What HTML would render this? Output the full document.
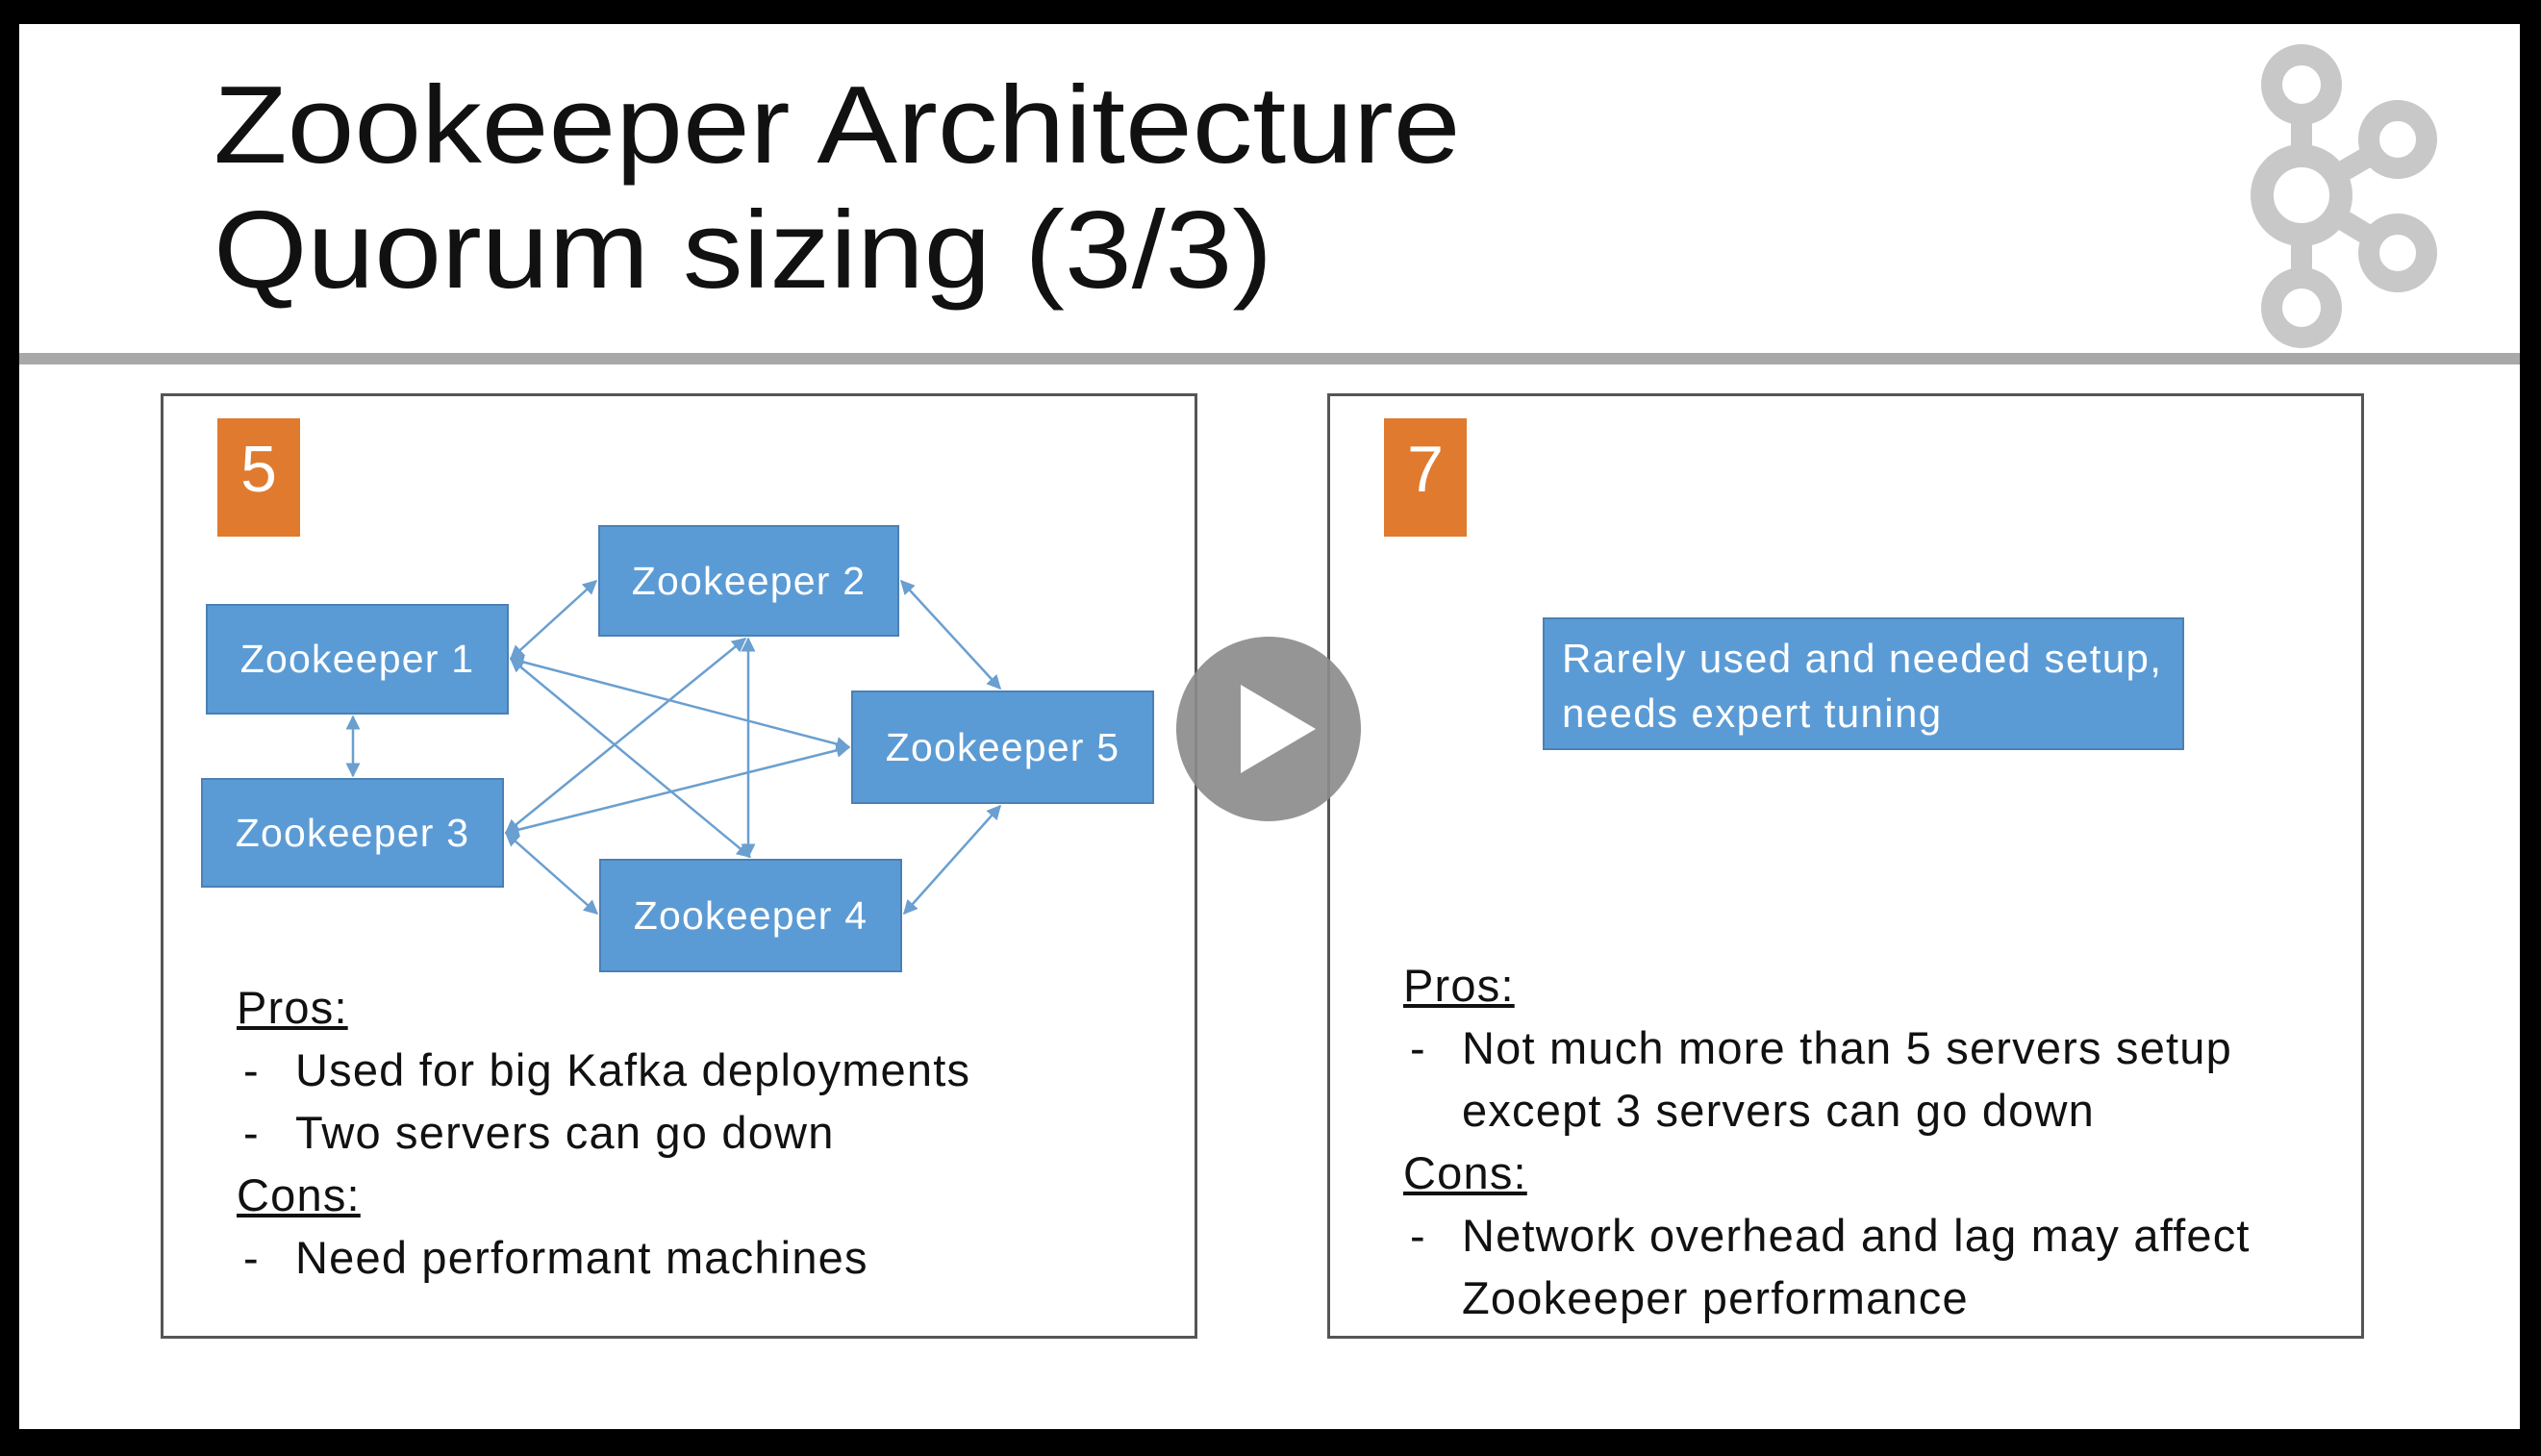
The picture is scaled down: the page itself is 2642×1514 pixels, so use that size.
<!DOCTYPE html>
<html><head><meta charset="utf-8"><style>
body{margin:0;background:#000;width:2642px;height:1514px;overflow:hidden;position:relative;font-family:"Liberation Sans",sans-serif}
.slide{position:absolute;left:20px;top:25px;width:2600px;height:1461px;background:#fff}
.t{position:absolute;white-space:nowrap}
.box{position:absolute;border:3px solid #555;box-sizing:border-box}
.or{position:absolute;background:#e07a2f;color:#fff;font-size:68px;text-align:center;box-sizing:border-box;padding-top:14px}
.n{position:absolute;background:#5b9bd5;border:2px solid #4a80b5;box-sizing:border-box;color:#fff;font-size:41px;letter-spacing:1.2px;display:flex;align-items:center;justify-content:center;white-space:nowrap}
.tx{font-size:47px;color:#111;letter-spacing:1.2px}
</style></head><body>
<div class="slide"></div>
<div class="t" style="left:222px;top:66px;font-size:114px;line-height:130px;color:#111;transform:scaleX(1.1);transform-origin:0 0">Zookeeper Architecture<br>Quorum sizing (3/3)</div>
<svg style="position:absolute;left:0;top:0" width="2642" height="1514">
<rect x="20" y="367" width="2600" height="12" fill="#a8a8a8"/>
<g fill="none" stroke="#c8c8c8">
<line x1="2393" y1="88" x2="2393" y2="320" stroke-width="22"/>
<line x1="2393" y1="203" x2="2493" y2="145" stroke-width="22"/>
<line x1="2393" y1="203" x2="2493" y2="263" stroke-width="22"/>
<circle cx="2393" cy="88" r="31" stroke-width="22" fill="#fff"/>
<circle cx="2393" cy="320" r="31" stroke-width="22" fill="#fff"/>
<circle cx="2493" cy="145" r="30" stroke-width="22" fill="#fff"/>
<circle cx="2493" cy="263" r="30" stroke-width="22" fill="#fff"/>
<circle cx="2393" cy="203" r="41" stroke-width="24" fill="#fff"/>
</g>
</svg>
<div class="box" style="left:167px;top:409px;width:1078px;height:983px"></div>
<div class="box" style="left:1380px;top:409px;width:1078px;height:983px"></div>
<div class="or" style="left:226px;top:435px;width:86px;height:123px">5</div>
<div class="or" style="left:1439px;top:435px;width:86px;height:123px">7</div>
<svg style="position:absolute;left:0;top:0" width="2642" height="1514">
<defs><marker id="a" viewBox="0 0 10 10" refX="9" refY="5" markerWidth="6" markerHeight="6" orient="auto-start-reverse"><path d="M0,0L10,5L0,10z" fill="#6a9fd0"/></marker></defs>
<g stroke="#6a9fd0" stroke-width="2.5" marker-start="url(#a)" marker-end="url(#a)">
<line x1="531" y1="685" x2="620" y2="604"/>
<line x1="367" y1="745" x2="367" y2="807"/>
<line x1="531" y1="685" x2="883" y2="777"/>
<line x1="531" y1="685" x2="780" y2="891"/>
<line x1="526" y1="866" x2="775" y2="664"/>
<line x1="526" y1="866" x2="883" y2="777"/>
<line x1="526" y1="866" x2="621" y2="950"/>
<line x1="778" y1="664" x2="778" y2="891"/>
<line x1="937" y1="604" x2="1040" y2="716"/>
<line x1="940" y1="950" x2="1040" y2="838"/>
</g></svg>
<div class="n" style="left:214px;top:628px;width:315px;height:115px">Zookeeper 1</div>
<div class="n" style="left:622px;top:546px;width:313px;height:116px">Zookeeper 2</div>
<div class="n" style="left:209px;top:809px;width:315px;height:114px">Zookeeper 3</div>
<div class="n" style="left:623px;top:893px;width:315px;height:118px">Zookeeper 4</div>
<div class="n" style="left:885px;top:718px;width:315px;height:118px">Zookeeper 5</div>
<div class="n" style="left:1604px;top:642px;width:667px;height:138px;display:block;padding:12px 18px;font-size:42px;letter-spacing:1.4px;line-height:57px">Rarely used and needed setup,<br>needs expert tuning</div>
<div class="t tx" style="left:246px;top:1015px;line-height:65px">
<u>Pros:</u><br>
<span style="display:inline-block;width:61px;padding-left:7px;box-sizing:border-box">-</span>Used for big Kafka deployments<br>
<span style="display:inline-block;width:61px;padding-left:7px;box-sizing:border-box">-</span>Two servers can go down<br>
<u>Cons:</u><br>
<span style="display:inline-block;width:61px;padding-left:7px;box-sizing:border-box">-</span>Need performant machines</div>
<div class="t tx" style="left:1459px;top:992px;line-height:65px">
<u>Pros:</u><br>
<span style="display:inline-block;width:61px;padding-left:7px;box-sizing:border-box">-</span>Not much more than 5 servers setup<br>
<span style="display:inline-block;width:61px"></span>except 3 servers can go down<br>
<u>Cons:</u><br>
<span style="display:inline-block;width:61px;padding-left:7px;box-sizing:border-box">-</span>Network overhead and lag may affect<br>
<span style="display:inline-block;width:61px"></span>Zookeeper performance</div>
<svg style="position:absolute;left:0;top:0" width="2642" height="1514">
<circle cx="1319" cy="758" r="96" fill="#8c8c8c" fill-opacity="0.92"/>
<path d="M1290,712L1290,804L1368,758z" fill="#fff"/>
</svg>
</body></html>
